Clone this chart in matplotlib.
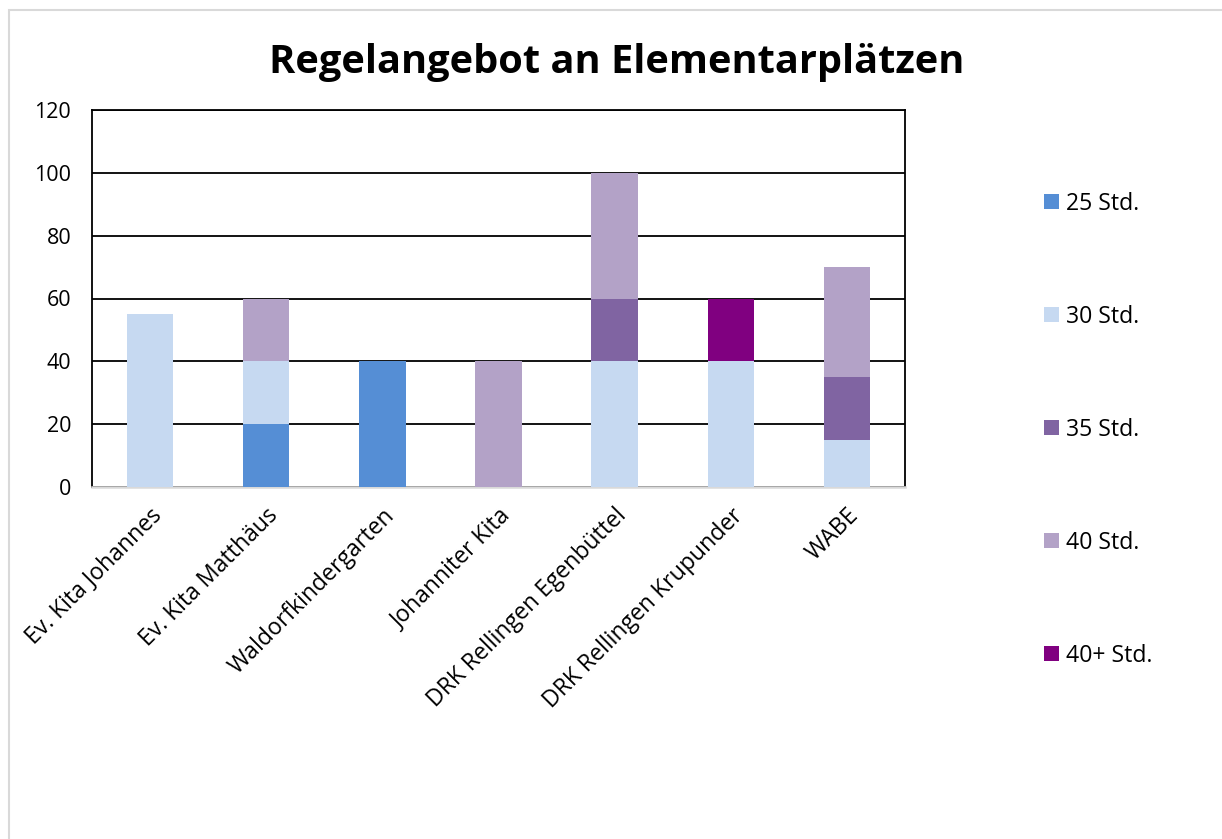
import matplotlib
matplotlib.use('Agg')
import matplotlib.pyplot as plt
from matplotlib.patches import Rectangle, Patch
import numpy as np

plt.rcParams['font.family'] = ['Open Sans', 'DejaVu Sans']

# data
kitas = ['Ev. Kita Johannes', 'Ev. Kita Matthäus', 'Waldorfkindergarten',
         'Johanniter Kita', 'DRK Rellingen Egenbüttel', 'DRK Rellingen Krupunder', 'WABE']
series_names = ['25 Std.', '30 Std.', '35 Std.', '40 Std.', '40+ Std.']
std25 = [0, 20, 40, 0, 0, 0, 0]
std30 = [55, 20, 0, 0, 40, 40, 15]
std35 = [0, 0, 0, 0, 20, 0, 20]
std40 = [0, 20, 0, 40, 40, 0, 35]
std40plus = [0, 0, 0, 0, 0, 20, 0]
colors = ['#558ED5', '#C6D9F1', '#8064A2', '#B3A2C7', '#800080']

fig = plt.figure(figsize=(12.22, 8.39), dpi=100)
# light grey chart border (right/bottom edges are cut off in the original)
fig.patches.append(Rectangle((9 / 1222, -0.05), 1.1, 1 - 10 / 839 + 0.05,
                             transform=fig.transFigure, fill=False,
                             edgecolor='#D9D9D9', linewidth=1.5))

ax = fig.add_axes([92 / 1222, 1 - 487 / 839, (905 - 92) / 1222, (487 - 110) / 839])

x = np.arange(len(kitas))
bottom = np.zeros(len(kitas))
for name, vals, col in zip(series_names, [std25, std30, std35, std40, std40plus], colors):
    ax.bar(x, vals, width=0.4, bottom=bottom, color=col, label=name, zorder=3)
    bottom += np.array(vals)

ax.set_ylim(0, 120)
ax.set_xlim(-0.5, len(kitas) - 0.5)
ax.set_yticks(range(0, 121, 20))
ax.yaxis.grid(True, color='black', linewidth=1.3, zorder=0)
ax.set_axisbelow(True)
ax.tick_params(axis='y', length=0, pad=15, labelsize=15.5)
ax.tick_params(axis='x', length=0, pad=12, labelsize=16.6)
ax.set_xticks(x)
ax.set_xticklabels(kitas, rotation=45, ha='right', rotation_mode='anchor')

for s in ['left', 'right', 'top']:
    ax.spines[s].set_color('black')
    ax.spines[s].set_linewidth(1.3)
ax.spines['bottom'].set_color('#D9D9D9')
ax.spines['bottom'].set_linewidth(1.8)

fig.text(617 / 1222, 1 - 63 / 839, 'Regelangebot an Elementarplätzen',
         ha='center', va='center', fontsize=28.6, fontweight='bold')

handles = [Patch(facecolor=c, label=n) for n, c in zip(series_names, colors)]
fig.legend(handles=handles, loc='upper left', bbox_to_anchor=(1044 / 1222, 1 - 192 / 839),
           frameon=False, fontsize=16.6, labelspacing=3.86, handlelength=0.64,
           handleheight=0.62, handletextpad=0.3, borderpad=0, borderaxespad=0)

fig.savefig('out.png', dpi=100)
